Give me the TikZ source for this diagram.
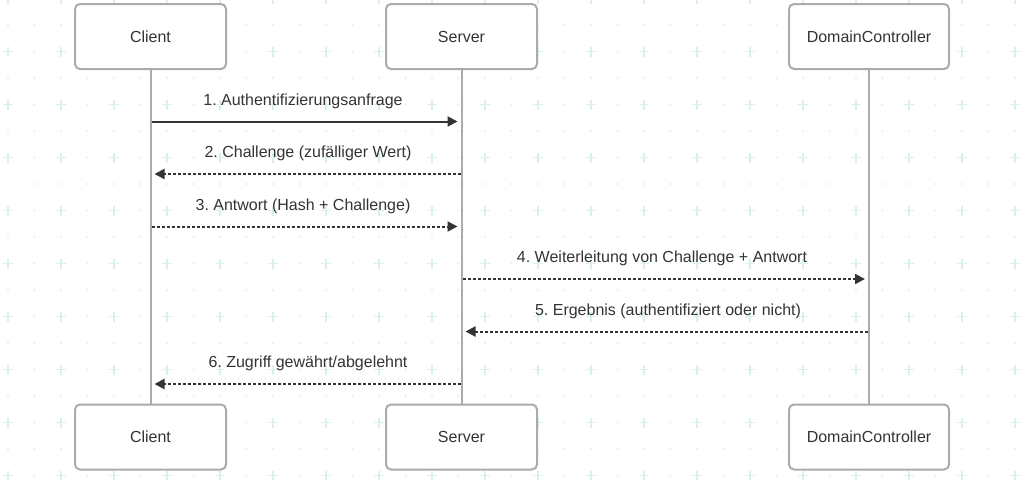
\documentclass[tikz,border=0pt]{standalone}
\usepackage{fontspec}
\setmainfont{Liberation Sans}
\usetikzlibrary{arrows.meta}
\definecolor{gridc}{HTML}{DAEFEF}
\definecolor{boxc}{HTML}{ABABAB}
\definecolor{txtc}{HTML}{333333}
\tikzset{
  actor/.style={draw=boxc, line width=2pt, rounded corners=5pt, fill=white,
    minimum width=151pt, minimum height=65pt, inner sep=0pt, text=txtc,
    font=\fontsize{16pt}{19pt}\selectfont},
  wideactor/.style={actor, minimum width=160pt},
  lifeline/.style={draw=boxc, line width=2pt},
  msg/.style={draw=txtc, line width=2pt, -{Triangle[length=10pt,width=10pt]}, shorten >=4pt},
  dmsg/.style={msg, dash pattern=on 3pt off 2pt},
  lbl/.style={text=txtc, font=\fontsize{16pt}{19pt}\selectfont, inner sep=0pt, anchor=base}
}
\begin{document}
\frenchspacing
\begin{tikzpicture}[x=1pt,y=-1pt]
\useasboundingbox (0,0) rectangle (1024,479);
\begin{scope}
\clip (0,0) rectangle (1024,479);
\foreach \i in {0,...,39} {
  \foreach \j in {0,...,18} {
    \fill[gridc] (8+26.5*\i,-1.5+26.5*\j) circle (1.1pt);
  }
}
\foreach \i in {0,...,19} {
  \foreach \j in {-1,...,9} {
    \draw[gridc, line width=1.4pt] (8+53*\i-5,51.5+53*\j) -- (8+53*\i+5,51.5+53*\j)
      (8+53*\i,51.5+53*\j-5) -- (8+53*\i,51.5+53*\j+5);
  }
}
\end{scope}
% lifelines first
\draw[lifeline] (150.5,69) -- (150.5,404);
\draw[lifeline] (461.5,69) -- (461.5,404);
\draw[lifeline] (869,69) -- (869,404);
% actors
\node[actor] (c1) at (150.5,36.5) {Client};
\node[actor] (s1) at (461.5,36.5) {Server};
\node[wideactor] (d1) at (869,36.5) {DomainController};
\node[actor] (c2) at (150.5,437) {Client};
\node[actor] (s2) at (461.5,437) {Server};
\node[wideactor] (d2) at (869,437) {DomainController};
% message end points
\coordinate (m1a) at (151.5,121.5); \coordinate (m1b) at (461.5,121.5);
\coordinate (m2a) at (460.5,174);   \coordinate (m2b) at (150.5,174);
\coordinate (m3a) at (151.5,226.5); \coordinate (m3b) at (461.5,226.5);
\coordinate (m4a) at (462.5,279);   \coordinate (m4b) at (869,279);
\coordinate (m5a) at (868,331.5);   \coordinate (m5b) at (461.5,331.5);
\coordinate (m6a) at (460.5,384);   \coordinate (m6b) at (150.5,384);
\draw[msg] (m1a) -- (m1b);
\draw[dmsg] (m2a) -- (m2b);
\draw[dmsg] (m3a) -- (m3b);
\draw[dmsg] (m4a) -- (m4b);
\draw[dmsg] (m5a) -- (m5b);
\draw[dmsg] (m6a) -- (m6b);
\node[lbl] (l1) at (303,105) {1. Authentifizierungsanfrage};
\node[lbl] (l2) at (308,157.5) {2. Challenge (zufälliger Wert)};
\node[lbl] (l3) at (303,210) {3. Antwort (Hash + Challenge)};
\node[lbl] (l4) at (662,262.5) {4. Weiterleitung von Challenge + Antwort};
\node[lbl] (l5) at (668,315) {5. Ergebnis (authentifiziert oder nicht)};
\node[lbl] (l6) at (308,367.5) {6. Zugriff gewährt/abgelehnt};
\end{tikzpicture}
\end{document}
